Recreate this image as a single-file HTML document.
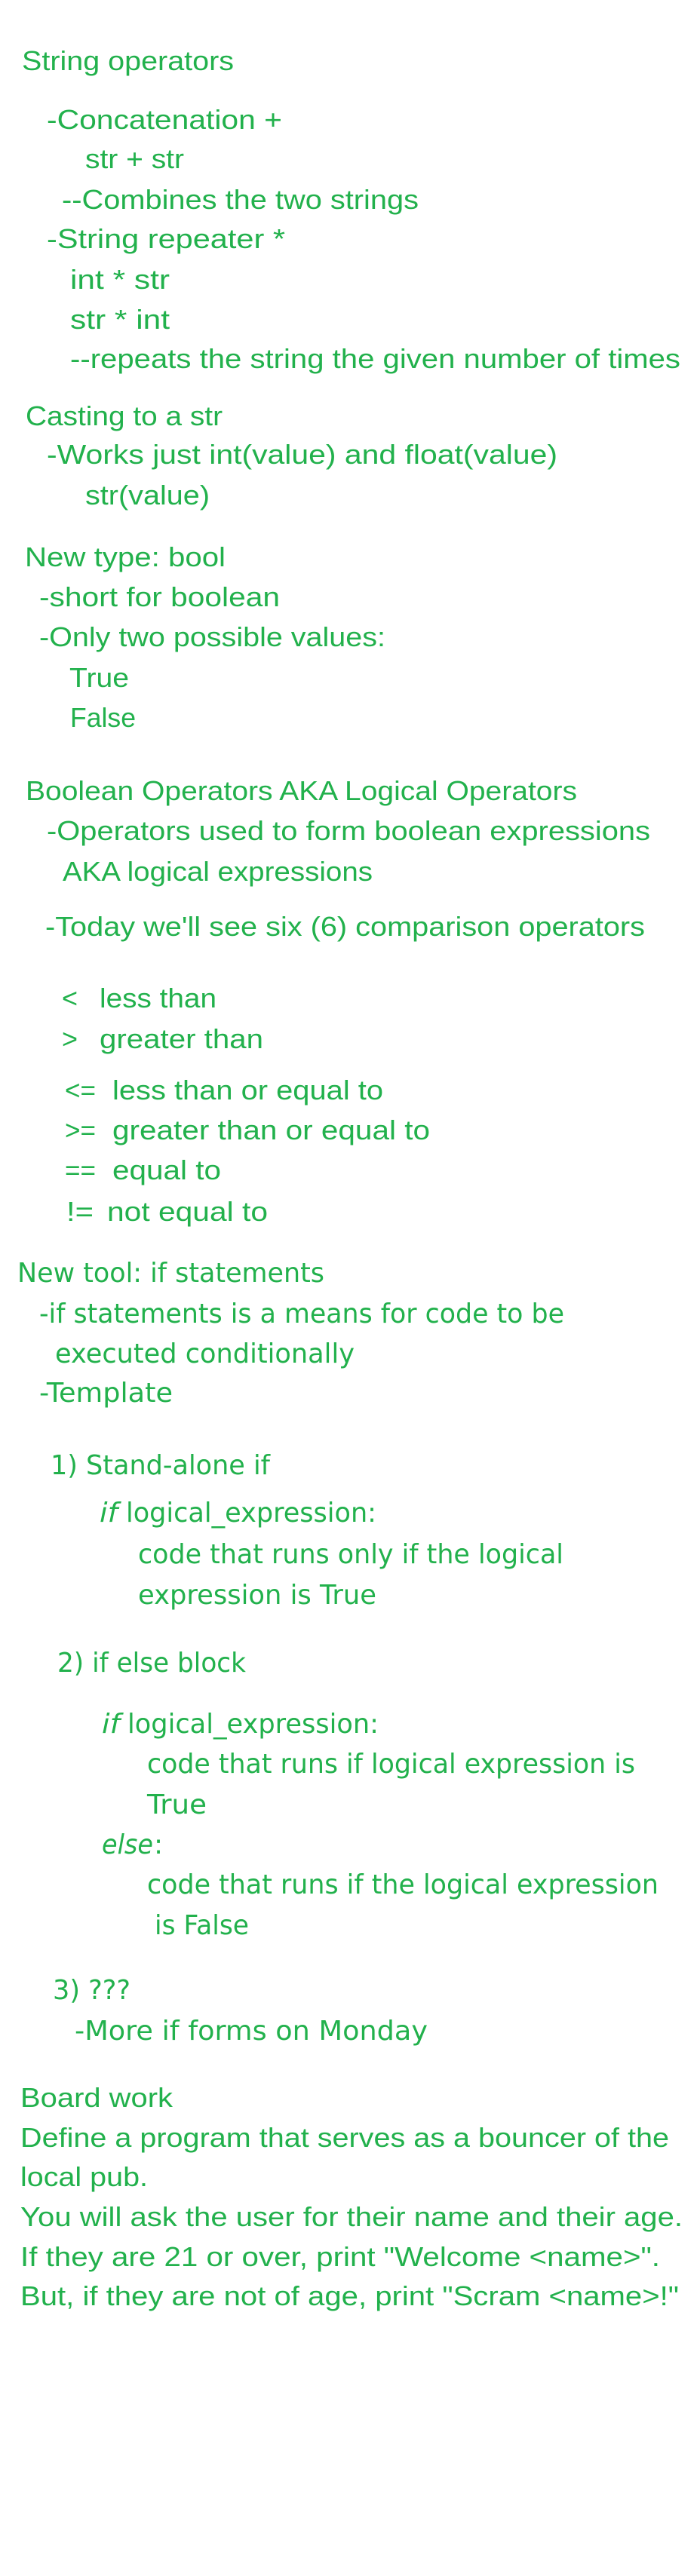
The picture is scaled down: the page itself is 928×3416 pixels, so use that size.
<!DOCTYPE html>
<html><head><meta charset="utf-8"><style>
html,body{margin:0;padding:0;background:#fff;}
svg{display:block;}
text{fill:#22b14c;}
.c{font-family:"Liberation Sans",sans-serif;font-size:36px;}
.v{font-family:"DejaVu Sans","Liberation Sans",sans-serif;font-size:36px;}
</style></head><body>
<svg width="928" height="3416" viewBox="0 0 928 3416" xmlns="http://www.w3.org/2000/svg">
<g class="c" lengthAdjust="spacingAndGlyphs">
<text x="29" y="93" textLength="281" lengthAdjust="spacingAndGlyphs">String operators</text>
<text x="62" y="171" textLength="312" lengthAdjust="spacingAndGlyphs">-Concatenation  +</text>
<text x="113" y="223" textLength="131" lengthAdjust="spacingAndGlyphs">str + str</text>
<text x="82" y="277" textLength="473" lengthAdjust="spacingAndGlyphs">--Combines the two strings</text>
<text x="62" y="329" textLength="316" lengthAdjust="spacingAndGlyphs">-String repeater  *</text>
<text x="93" y="383" textLength="132" lengthAdjust="spacingAndGlyphs">int * str</text>
<text x="93" y="436" textLength="132" lengthAdjust="spacingAndGlyphs">str * int</text>
<text x="93" y="488" textLength="809" lengthAdjust="spacingAndGlyphs">--repeats the string the given number of times</text>
<text x="34" y="564" textLength="261" lengthAdjust="spacingAndGlyphs">Casting to a str</text>
<text x="62" y="615" textLength="677" lengthAdjust="spacingAndGlyphs">-Works just int(value)  and float(value)</text>
<text x="113" y="669" textLength="165" lengthAdjust="spacingAndGlyphs">str(value)</text>

<text x="33" y="751" textLength="266" lengthAdjust="spacingAndGlyphs">New type: bool</text>
<text x="52" y="804" textLength="319" lengthAdjust="spacingAndGlyphs">-short for boolean</text>
<text x="52" y="857" textLength="459" lengthAdjust="spacingAndGlyphs">-Only two possible values:</text>
<text x="92" y="911" textLength="79" lengthAdjust="spacingAndGlyphs">True</text>
<text x="93" y="964" textLength="87" lengthAdjust="spacingAndGlyphs">False</text>

<text x="34" y="1061" textLength="731" lengthAdjust="spacingAndGlyphs">Boolean Operators AKA Logical Operators</text>
<text x="62" y="1114" textLength="800" lengthAdjust="spacingAndGlyphs">-Operators used to form boolean expressions</text>
<text x="83" y="1168" textLength="411" lengthAdjust="spacingAndGlyphs">AKA logical expressions</text>
<text x="60" y="1241" textLength="795" lengthAdjust="spacingAndGlyphs">-Today we'll see six (6) comparison operators</text>

<text x="82" y="1336">&lt;</text>
<text x="132" y="1336" textLength="155" lengthAdjust="spacingAndGlyphs">less than</text>
<text x="82" y="1390">&gt;</text>
<text x="132" y="1390" textLength="217" lengthAdjust="spacingAndGlyphs">greater than</text>
<text x="86" y="1458" textLength="41" lengthAdjust="spacingAndGlyphs">&lt;=</text>
<text x="149" y="1458" textLength="359" lengthAdjust="spacingAndGlyphs">less than or equal to</text>
<text x="86" y="1511" textLength="41" lengthAdjust="spacingAndGlyphs">&gt;=</text>
<text x="149" y="1511" textLength="421" lengthAdjust="spacingAndGlyphs">greater than or equal to</text>
<text x="86" y="1564" textLength="41" lengthAdjust="spacingAndGlyphs">==</text>
<text x="149" y="1564" textLength="144" lengthAdjust="spacingAndGlyphs">equal to</text>
<text x="88" y="1619" textLength="36" lengthAdjust="spacingAndGlyphs">!=</text>
<text x="142" y="1619" textLength="213" lengthAdjust="spacingAndGlyphs">not equal to</text>
</g>

<g class="v">
<text class="v" x="23" y="1700" textLength="407" lengthAdjust="spacingAndGlyphs">New tool: if statements</text>
<text class="v" x="52" y="1754" textLength="696" lengthAdjust="spacingAndGlyphs">-if statements is a means for code to be</text>
<text class="v" x="73" y="1807" textLength="397" lengthAdjust="spacingAndGlyphs">executed conditionally</text>
<text class="v" x="52" y="1859" textLength="177" lengthAdjust="spacingAndGlyphs">-Template</text>
<text class="v" x="67" y="1955" textLength="291" lengthAdjust="spacingAndGlyphs">1) Stand-alone if</text>
<text class="v" x="132" y="2018" font-style="italic" textLength="24" lengthAdjust="spacingAndGlyphs">if</text>
<text class="v" x="167" y="2018" textLength="332" lengthAdjust="spacingAndGlyphs">logical_expression:</text>
<text class="v" x="183" y="2073" textLength="564" lengthAdjust="spacingAndGlyphs">code that runs only if the logical</text>
<text class="v" x="183" y="2127" textLength="316" lengthAdjust="spacingAndGlyphs">expression is True</text>
<text class="v" x="76" y="2217" textLength="250" lengthAdjust="spacingAndGlyphs">2) if else block</text>
<text class="v" x="135" y="2298" font-style="italic" textLength="24" lengthAdjust="spacingAndGlyphs">if</text>
<text class="v" x="169" y="2298" textLength="333" lengthAdjust="spacingAndGlyphs">logical_expression:</text>
<text class="v" x="195" y="2351" textLength="647" lengthAdjust="spacingAndGlyphs">code that runs if logical expression is</text>
<text class="v" x="195" y="2405" textLength="79" lengthAdjust="spacingAndGlyphs">True</text>
<text class="v" x="135" y="2458" font-style="italic" textLength="68" lengthAdjust="spacingAndGlyphs">else</text>
<text class="v" x="204" y="2458">:</text>
<text class="v" x="195" y="2511" textLength="678" lengthAdjust="spacingAndGlyphs">code that runs if the logical expression</text>
<text class="v" x="205" y="2565" textLength="125" lengthAdjust="spacingAndGlyphs">is False</text>
<text class="v" x="70" y="2651" textLength="103" lengthAdjust="spacingAndGlyphs">3) ???</text>
<text class="v" x="99" y="2705" textLength="468" lengthAdjust="spacingAndGlyphs">-More if forms on Monday</text>
</g>

<g class="c">
<text class="c" x="27" y="2794" textLength="202" lengthAdjust="spacingAndGlyphs">Board work</text>
<text class="c" x="27" y="2847" textLength="860" lengthAdjust="spacingAndGlyphs">Define a program that serves as a bouncer of the</text>
<text class="c" x="27" y="2899" textLength="169" lengthAdjust="spacingAndGlyphs">local pub.</text>
<text class="c" x="27" y="2952" textLength="878" lengthAdjust="spacingAndGlyphs">You will ask the user for their name and their age.</text>
<text class="c" x="27" y="3005" textLength="848" lengthAdjust="spacingAndGlyphs">If they are 21 or over, print "Welcome &lt;name&gt;".</text>
<text class="c" x="27" y="3057" textLength="873" lengthAdjust="spacingAndGlyphs">But, if they are not of age, print "Scram &lt;name&gt;!"</text>
</g>
</svg>
</body></html>
